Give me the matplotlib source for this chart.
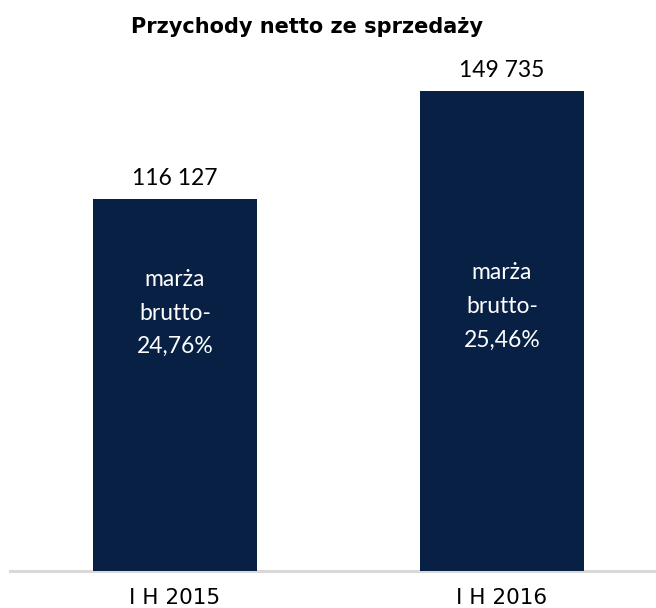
import matplotlib
matplotlib.use("Agg")
import matplotlib.pyplot as plt

categories = ["I H 2015", "I H 2016"]
values = [116127, 149735]
value_labels = ["116 127", "149 735"]
inner_labels = ["marża\nbrutto-\n24,76%", "marża\nbrutto-\n25,46%"]
title = "Przychody netto ze sprzedaży"

bar_color = "#072044"
W, H = 656, 608
fig = plt.figure(figsize=(W / 100, H / 100), dpi=100)
ax = fig.add_axes([10 / W, 37 / H, 646 / W, 544.8 / H])
ax.set_xlim(-0.5046, 1.471)
ax.set_ylim(0, 170000)

x = list(range(len(categories)))
ax.bar(x, values, width=0.5, color=bar_color, zorder=3)
ax.axhline(0, color="#d9d9d9", lw=2.2, zorder=2, clip_on=False)

for xi, v, lab in zip(x, values, value_labels):
    ax.annotate(lab, (xi, v), xytext=(0, 15), textcoords="offset points",
                ha="center", va="center", fontsize=16.5, family="Lato", color="#000000")

inner_y = [80500, 82500]
for xi, yy, lab in zip(x, inner_y, inner_labels):
    ax.text(xi, yy, lab, ha="center", va="center", fontsize=16.5, family="Lato",
            color="white", linespacing=1.75, zorder=4)

for s in ax.spines.values():
    s.set_visible(False)
ax.set_yticks([])
ax.set_xticks(x)
ax.set_xticklabels(categories, fontsize=15.5, family="DejaVu Sans")
ax.tick_params(axis="x", length=0, pad=12)

fig.text(307 / W, 1 - 27 / H, title, ha="center", va="center",
         fontsize=15, fontweight="bold", family="DejaVu Sans")

fig.savefig("out.png", dpi=100)
